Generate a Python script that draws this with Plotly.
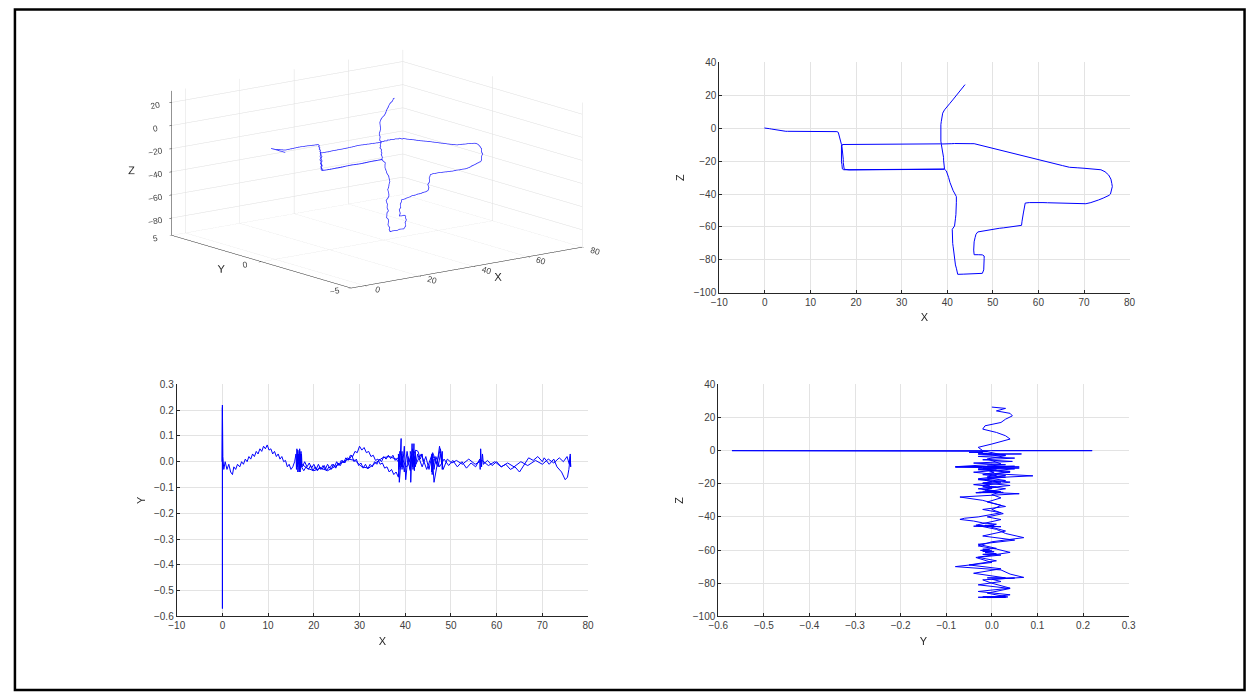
import plotly.graph_objects as go

# ---------------- data: trajectory segments, rows of (X, Y, Z) ----------------
SEG_START_SPIKE = [(-0.1, 0.0, 0.0), (0.0, 0.22, 0.0), (0.0, -0.57, 0.0), (0.0, 0.21, 0.0),
                   (0.0, -0.52, 0.0), (0.05, 0.15, 0.0), (0.1, 0.02, 0.0)]

SEG_EAST_Z2 = [(0.3, -0.03, -0.1), (0.6, 0.0, -0.2), (1.0, -0.03, -0.4), (1.4, -0.01, -0.6),
               (1.8, -0.04, -0.8), (2.2, -0.05, -1.0), (2.5, -0.02, -1.2), (2.9, -0.03, -1.5),
               (3.3, -0.01, -1.8), (3.8, -0.02, -2.0), (4.2, 0.0, -2.0), (4.6, -0.01, -2.0),
               (5.0, 0.01, -2.0), (5.4, 0.0, -2.0), (5.8, 0.02, -2.0), (6.2, 0.01, -2.0),
               (6.6, 0.03, -2.0), (7.0, 0.02, -2.0), (7.4, 0.04, -2.0), (7.8, 0.03, -2.0),
               (8.2, 0.05, -2.0), (8.6, 0.04, -2.0), (9.0, 0.06, -2.0), (9.4, 0.05, -2.0),
               (9.8, 0.065, -2.0), (10.2, 0.045, -2.0), (10.6, 0.05, -2.0), (11.0, 0.03, -2.0),
               (11.4, 0.04, -2.0), (11.8, 0.02, -2.0), (12.2, 0.03, -2.0), (12.6, 0.01, -2.1),
               (13.0, 0.02, -2.1), (13.4, 0.0, -2.1), (13.8, 0.005, -2.1), (14.2, -0.02, -2.1),
               (14.6, -0.01, -2.1), (15.0, -0.03, -2.1), (15.4, -0.02, -2.1), (15.8, 0.0, -2.2)]

SEG_DOWN_X17_A = [(16.1, 0.03, -2.6), (16.2, -0.03, -3.5), (16.3, 0.05, -4.5), (16.4, -0.02, -5.5),
                  (16.5, 0.045, -6.5), (16.5, -0.04, -7.5), (16.6, 0.03, -8.5), (16.7, -0.01, -9.3),
                  (16.8, 0.02, -10.0), (16.8, -0.03, -11.5), (16.8, 0.04, -13.0), (16.7, -0.02, -14.5),
                  (16.7, 0.03, -16.0), (16.8, -0.03, -17.5), (16.8, 0.02, -19.0), (16.8, -0.04, -20.5),
                  (16.9, 0.01, -22.0), (16.9, -0.02, -23.5), (17.0, 0.01, -24.8), (17.3, -0.02, -25.3)]

SEG_EAST_Z25_A = [(17.8, -0.035, -25.3), (18.3, -0.02, -25.3), (18.8, -0.03, -25.3), (19.3, -0.015, -25.3),
                  (19.8, -0.035, -25.3), (20.3, -0.02, -25.3), (20.8, -0.035, -25.3), (21.3, -0.02, -25.3),
                  (21.8, -0.03, -25.3), (22.3, -0.015, -25.2), (22.8, -0.035, -25.2), (23.3, -0.02, -25.2),
                  (23.8, -0.03, -25.2), (24.3, -0.01, -25.2), (24.8, -0.025, -25.2), (25.3, -0.005, -25.2),
                  (25.8, -0.015, -25.2), (26.3, 0.005, -25.2), (26.8, -0.005, -25.2), (27.3, 0.015, -25.2),
                  (27.8, 0.01, -25.2), (28.3, 0.025, -25.2), (28.8, 0.0, -25.2), (29.3, 0.01, -25.2),
                  (29.8, -0.015, -25.2), (30.3, -0.005, -25.2), (30.8, -0.025, -25.2), (31.3, -0.01, -25.2),
                  (31.8, -0.028, -25.2), (32.3, -0.01, -25.1), (32.8, -0.02, -25.1), (33.3, 0.0, -25.1),
                  (33.8, -0.01, -25.1), (34.3, 0.01, -25.1), (34.8, 0.0, -25.1), (35.3, 0.02, -25.1),
                  (35.8, 0.01, -25.1), (36.3, 0.025, -25.1), (36.8, 0.012, -25.1), (37.3, 0.025, -25.1),
                  (37.8, 0.005, -25.1), (38.3, 0.015, -25.1), (38.9, -0.01, -24.9), (39.4, 0.02, -24.8)]

SEG_SPINE_UP_MID = [(39.3, -0.03, -23.0), (39.3, 0.04, -21.0), (39.2, -0.02, -19.5), (39.2, 0.03, -18.0),
                    (39.1, -0.01, -16.5), (39.1, 0.09, -15.2), (39.0, 0.01, -14.0), (38.9, 0.04, -12.5),
                    (38.8, -0.02, -11.0), (38.7, 0.01, -9.8)]

SEG_WEST_Z10 = [(38.5, -0.06, -9.6), (38.0, -0.04, -9.6), (37.5, -0.05, -9.6), (37.0, -0.03, -9.6),
                (36.5, -0.04, -9.6), (36.0, -0.02, -9.6), (35.5, -0.025, -9.6), (35.0, -0.005, -9.6),
                (34.5, -0.01, -9.6), (34.0, 0.01, -9.6), (33.5, 0.005, -9.6), (33.0, 0.025, -9.6),
                (32.5, 0.02, -9.6), (32.0, 0.04, -9.6), (31.5, 0.035, -9.6), (31.0, 0.055, -9.6),
                (30.5, 0.045, -9.6), (30.0, 0.06, -9.8), (29.5, 0.035, -9.8), (29.0, 0.04, -9.8),
                (28.5, 0.02, -9.8), (28.0, 0.025, -9.8), (27.5, 0.005, -9.8), (27.0, 0.015, -9.8),
                (26.5, -0.005, -9.8), (26.0, 0.005, -9.8), (25.5, -0.015, -9.8), (25.0, 0.0, -9.8),
                (24.5, -0.02, -9.8), (24.0, -0.01, -9.8), (23.5, -0.025, -9.8), (23.0, -0.01, -9.8),
                (22.5, -0.03, -9.8), (22.0, -0.015, -9.8), (21.5, -0.03, -9.8), (21.0, -0.01, -9.8),
                (20.5, -0.03, -9.8), (20.0, -0.01, -10.0), (19.5, -0.025, -10.0), (19.0, -0.005, -10.0),
                (18.5, -0.02, -10.0), (18.0, 0.0, -10.0), (17.5, -0.02, -10.0), (17.0, 0.01, -10.0)]

SEG_DOWN_X17_B = [(16.9, 0.05, -11.0), (17.0, -0.04, -13.0), (17.1, 0.03, -15.0), (17.1, -0.03, -17.0),
                  (17.2, 0.04, -19.0), (17.2, -0.02, -21.0), (17.3, 0.03, -23.0), (17.4, -0.01, -25.0)]

SEG_EAST_Z25_B = [(18.5, -0.025, -25.4), (20.0, -0.035, -25.4), (21.5, -0.025, -25.4), (23.0, -0.035, -25.4),
                  (24.5, -0.02, -25.4), (26.0, -0.005, -25.3), (27.5, 0.01, -25.3), (29.0, 0.005, -25.3),
                  (30.5, -0.02, -25.3), (32.0, -0.025, -25.3), (33.5, -0.005, -25.3), (35.0, 0.015, -25.3),
                  (36.5, 0.02, -25.3), (38.0, 0.01, -25.2), (39.4, -0.02, -25.0)]

SEG_SPINE_DOWN = [(39.8, 0.06, -26.0), (40.1, -0.07, -28.0), (40.3, -0.02, -30.0), (40.6, 0.02, -33.0),
                  (40.9, 0.0, -35.6), (41.3, 0.025, -38.0), (41.7, -0.01, -40.0), (42.0, 0.02, -41.6),
                  (42.0, -0.035, -45.0), (42.0, 0.01, -47.5), (42.0, 0.03, -50.0), (41.9, 0.07, -52.5),
                  (41.8, 0.0, -55.0), (41.7, -0.03, -57.5), (41.6, 0.01, -59.4), (41.1, 0.04, -61.4),
                  (41.1, -0.035, -64.5), (41.2, 0.0, -67.5), (41.2, -0.08, -70.0), (41.3, 0.02, -72.0),
                  (41.4, 0.04, -74.5), (41.5, 0.07, -76.5), (41.6, -0.02, -78.0), (41.7, 0.0, -80.0),
                  (41.8, 0.04, -83.0), (42.0, -0.03, -85.0), (42.2, 0.04, -87.0), (42.3, -0.01, -88.7)]

SEG_LOOP = [(43.5, 0.03, -88.6), (44.7, -0.03, -88.5), (46.0, 0.035, -88.3), (47.2, -0.02, -88.2),
            (47.7, 0.03, -88.1), (48.0, -0.01, -86.0), (48.1, 0.04, -83.2), (48.1, -0.03, -81.0),
            (48.1, 0.02, -79.0), (48.1, 0.0, -77.6), (47.7, 0.05, -76.9), (46.8, -0.01, -76.8),
            (45.9, 0.03, -76.8), (45.8, -0.04, -74.0), (45.8, 0.02, -71.3), (45.9, -0.05, -69.0),
            (46.1, 0.01, -66.5), (46.3, -0.03, -64.4), (46.7, 0.02, -63.0), (47.5, -0.02, -62.6),
            (48.5, 0.01, -62.2), (49.5, -0.015, -61.6), (50.4, 0.005, -61.0), (51.4, -0.02, -60.8),
            (52.4, 0.0, -60.5), (53.4, -0.025, -60.2), (54.4, -0.005, -59.8), (55.4, -0.02, -59.5),
            (56.3, 0.01, -59.0), (56.4, -0.03, -56.5), (56.5, 0.05, -54.0), (56.7, -0.02, -51.5),
            (56.9, 0.03, -48.5), (57.1, -0.01, -45.5), (58.0, 0.005, -45.2), (59.0, -0.015, -45.1),
            (60.0, 0.0, -45.1), (61.0, -0.02, -45.2), (62.0, -0.01, -45.3), (63.0, -0.03, -45.4),
            (64.0, -0.02, -45.5), (65.0, -0.04, -45.6), (66.0, -0.01, -45.7), (67.0, 0.015, -45.8),
            (68.0, 0.005, -45.9), (69.0, 0.02, -45.9), (70.0, 0.0, -45.9), (70.4, 0.015, -45.9),
            (71.5, -0.01, -45.2), (72.5, 0.01, -44.4), (73.2, -0.02, -43.6), (74.2, -0.04, -42.5),
            (75.0, -0.07, -41.5), (75.5, -0.06, -40.8), (75.8, -0.03, -40.0), (76.1, 0.02, -37.5),
            (76.2, -0.02, -35.5), (76.1, 0.03, -33.7), (75.9, -0.01, -31.0), (75.4, 0.02, -28.5),
            (74.6, 0.0, -26.5), (73.7, 0.015, -25.3), (72.5, -0.005, -24.9), (71.3, 0.01, -24.6),
            (70.0, -0.01, -24.4), (68.5, 0.005, -24.1), (66.8, -0.015, -23.8), (65.3, 0.0, -22.8),
            (63.8, -0.02, -21.8), (62.4, -0.005, -20.8), (61.0, -0.02, -19.8), (59.6, 0.0, -18.8),
            (58.2, -0.015, -17.8), (56.8, 0.005, -16.8), (55.3, -0.01, -15.8), (53.9, 0.01, -15.0),
            (52.5, -0.01, -14.0), (51.2, 0.005, -13.0), (50.2, -0.005, -12.3), (49.2, 0.01, -11.7),
            (48.3, -0.03, -11.0), (47.5, 0.06, -10.5), (46.9, -0.02, -10.2), (46.3, -0.08, -9.9),
            (45.9, 0.03, -9.5), (45.2, -0.03, -9.5), (44.5, 0.02, -9.4), (43.7, -0.02, -9.3),
            (42.7, 0.03, -9.2)]

SEG_WEST_SHORT = [(42.2, -0.02, -9.3), (41.6, 0.05, -9.4), (41.0, -0.03, -9.5), (40.4, 0.04, -9.5),
                  (39.8, -0.04, -9.6), (39.2, 0.03, -9.6), (38.7, -0.08, -9.7)]

SEG_SPINE_UP_TOP = [(38.6, 0.02, -8.0), (38.6, -0.01, -5.0), (38.5, 0.03, -3.0), (38.5, -0.02, 0.0),
                    (38.6, -0.03, 2.0), (38.7, 0.0, 4.0), (38.8, 0.04, 7.0), (39.0, 0.03, 9.0),
                    (39.4, 0.01, 11.0), (40.1, -0.02, 13.0), (40.6, -0.015, 15.0), (41.2, 0.02, 17.0),
                    (41.8, 0.03, 19.0), (42.3, 0.045, 21.0), (42.8, 0.04, 22.5), (43.3, 0.01, 24.0),
                    (43.7, 0.03, 25.5), (43.9, 0.0, 26.3)]

SEGMENTS = [SEG_START_SPIKE, SEG_EAST_Z2, SEG_DOWN_X17_A, SEG_EAST_Z25_A, SEG_SPINE_UP_MID,
            SEG_WEST_Z10, SEG_DOWN_X17_B, SEG_EAST_Z25_B, SEG_SPINE_DOWN, SEG_LOOP,
            SEG_WEST_SHORT, SEG_SPINE_UP_TOP]

X, Y, Z = [], [], []
for seg in SEGMENTS:
    for px, py, pz in seg:
        X.append(px); Y.append(py); Z.append(pz)

# ---------------- styling ----------------
W, H = 1255, 698
LINE = dict(color="#0000ff", width=1)
AX_COL = "#262626"
GRID_COL = "#e3e3e3"
FONT = "Liberation Sans, Arial, sans-serif"


def px_x(p):
    return p / W


def px_y(p):
    return 1 - p / H


fig = go.Figure()

# 3D
fig.add_trace(go.Scatter3d(x=X, y=Y, z=Z, mode="lines", line=dict(color="#2a2aff", width=1.5),
                           showlegend=False, hoverinfo="skip", scene="scene"))
# X-Z
fig.add_trace(go.Scatter(x=X, y=Z, mode="lines", line=LINE, showlegend=False,
                         hoverinfo="skip", xaxis="x", yaxis="y"))
# X-Y
fig.add_trace(go.Scatter(x=X, y=Y, mode="lines", line=LINE, showlegend=False,
                         hoverinfo="skip", xaxis="x2", yaxis="y2"))
# Y-Z
fig.add_trace(go.Scatter(x=Y, y=Z, mode="lines", line=LINE, showlegend=False,
                         hoverinfo="skip", xaxis="x3", yaxis="y3"))


def ax2d(dom, rng, dtick, title, anchor, ticks_fmt=None):
    d = dict(domain=dom, range=rng, dtick=dtick, tick0=0, showgrid=True, gridcolor=GRID_COL,
             gridwidth=1, zeroline=False, showline=True, linecolor=AX_COL, linewidth=1,
             ticks="inside", ticklen=3, tickcolor=AX_COL, mirror=False, anchor=anchor,
             tickfont=dict(size=10, color="#404040", family=FONT),
             title=dict(text=title, font=dict(size=11, color="#262626", family=FONT), standoff=6),
             fixedrange=True)
    if ticks_fmt:
        d["tickformat"] = ticks_fmt
    return d


TR_X = [px_x(719), px_x(1135)]
TR_Y = [px_y(292), px_y(57)]
BL_X = [px_x(169), px_x(586)]
BL_Y = [px_y(621), px_y(385)]
BR_X = [px_x(718), px_x(1134)]
BR_Y = [px_y(621), px_y(385)]

fig.update_layout(
    width=W, height=H, margin=dict(l=0, r=0, t=0, b=0),
    paper_bgcolor="white", plot_bgcolor="white", showlegend=False,
    xaxis=ax2d(TR_X, [-10, 80], 10, "X", "y"),
    yaxis=ax2d(TR_Y, [-100, 40], 20, "Z", "x"),
    xaxis2=ax2d(BL_X, [-10, 80], 10, "X", "y2"),
    yaxis2=ax2d(BL_Y, [-0.6, 0.3], 0.1, "Y", "x2", ".1f"),
    xaxis3=ax2d(BR_X, [-0.6, 0.3], 0.1, "Y", "y3", ".1f"),
    yaxis3=ax2d(BR_Y, [-100, 40], 20, "Z", "x3"),
)

TFONT = dict(size=11, color="#262626", family=FONT)
ax3 = dict(showbackground=False, gridcolor="#dedede", gridwidth=1, showline=True,
           linecolor=AX_COL, linewidth=1, zeroline=False, showspikes=False,
           ticks="outside", ticklen=3, tickcolor=AX_COL,
           tickfont=dict(size=10, color="#404040", family=FONT))

EYE_R = 2.5
AS_XY = 2.09
AS_Z = 1.06
fig.update_layout(scene=dict(
    domain=dict(x=[px_x(96), px_x(647)], y=[px_y(308.5), px_y(23.5)]),
    xaxis=dict(ax3, range=[-5, 80], tickvals=[0, 20, 40, 60, 80], title=dict(text="X", font=TFONT)),
    yaxis=dict(ax3, range=[-5, 5], tickvals=[-5, 0, 5], title=dict(text="Y", font=TFONT)),
    zaxis=dict(ax3, range=[-95, 30], tickvals=[-80, -60, -40, -20, 0, 20], title=dict(text="Z", font=TFONT)),
    aspectmode="manual", aspectratio=dict(x=AS_XY, y=AS_XY, z=AS_Z),
    camera=dict(eye=dict(x=-0.597 * EYE_R, y=-0.769 * EYE_R, z=0.228 * EYE_R),
                up=dict(x=0, y=0, z=1), center=dict(x=0, y=0, z=0),
                projection=dict(type="orthographic")),
))

# figure border
fig.add_shape(type="rect", xref="paper", yref="paper",
              x0=px_x(5), x1=px_x(1251.5), y0=px_y(696), y1=px_y(3.5),
              line=dict(color="black", width=2.5), fillcolor="rgba(0,0,0,0)", layer="above")

fig.write_html("out.html", config=dict(displayModeBar=False))
